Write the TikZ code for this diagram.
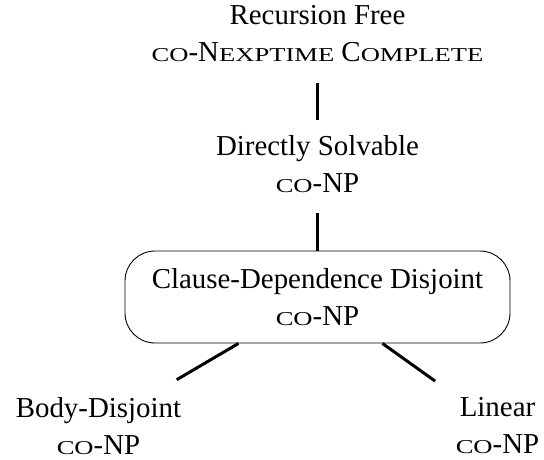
\documentclass[tikz,border=0pt]{standalone}
\usepackage{fontspec}
\setmainfont{Liberation Serif}
\usepackage{graphicx}
\newcommand{\fsc}[1]{\scalebox{0.92}[0.68]{#1}}

\begin{document}
\begin{tikzpicture}[x=1bp,y=-1bp,
  every node/.style={font=\fontsize{29}{37}\selectfont, align=center, inner sep=0pt},
  clsbox/.style={draw, line width=0.9bp, rounded corners=30bp, minimum width=385bp, minimum height=92bp},
  link/.style={line width=3bp}]
\useasboundingbox (0,0) rectangle (544,460);

\node (rf) at (317.5,33.7) {Recursion Free\\ \fsc{CO}-N\fsc{EXPTIME} C\fsc{OMPLETE}};
\node (ds) at (317.5,163.7) {Directly Solvable\\ \fsc{CO}-NP};
\node[clsbox] (cdd) at (317.5,297) {Clause-Dependence Disjoint\\ \fsc{CO}-NP};
\node (bd) at (98.5,425.7) {Body-Disjoint\\ \fsc{CO}-NP};
\node (ln) at (497.5,425.7) {Linear\\ \fsc{CO}-NP};

\draw[link,shorten <=21bp,shorten >=14.5bp] (rf) -- (ds);
\draw[link,shorten <=21bp] (ds) -- (cdd);
\draw[link,shorten >=34bp] (cdd) -- (bd);
\draw[link,shorten >=28bp] (cdd) -- (ln);

\end{tikzpicture}
\end{document}
